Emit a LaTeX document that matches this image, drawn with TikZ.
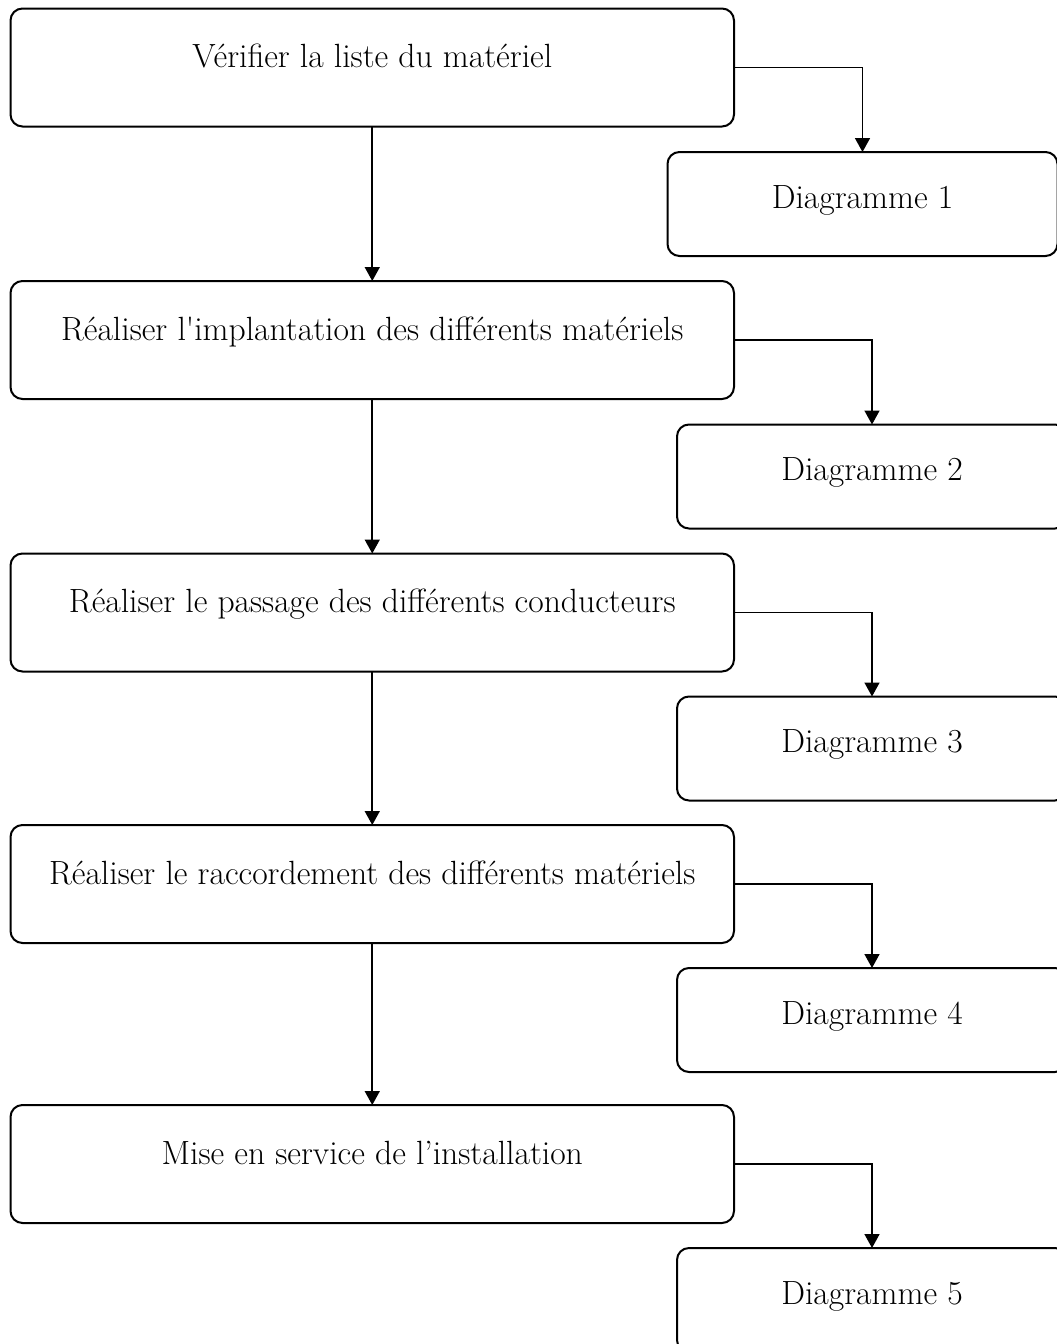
\documentclass[tikz,border=0pt]{standalone}
\usepackage{fontspec}
\usepackage{tikz}
\usetikzlibrary{arrows.meta}

\begin{document}
\begin{tikzpicture}[x=0.5pt,y=-0.5pt]
  \tikzset{StepStyle/.style = {
    shape          = rectangle,
    rounded corners = 6pt,
    draw           = black,
    fill           = white,
    line width     = 1pt,
    text           = black,
    inner sep      = 0pt,
    outer sep      = 0pt,
    minimum width  = 361.75pt,
    text height    = 29.5pt,
    text depth     = 29.5pt,
    font           = \fontsize{16.8}{20}\selectfont
    }
  }
  \tikzset{DiagStyle/.style = {
    StepStyle,
    minimum width  = 195pt,
    text height    = 28pt,
    text depth     = 24pt
    }
  }
  \tikzset{ArrowStyle/.style = {
    draw       = black,
    line width = 0.8pt,
    -{Triangle[width=7.5pt,length=7pt]}
    }
  }

  \useasboundingbox (0,0) rectangle (1056,1344);

	\node[StepStyle](S1) at (372.25, 67.5) {Vérifier la liste du matériel};
	\node[StepStyle](S2) at (372.25, 340) {Réaliser l\textquotesingle implantation des différents matériels};
	\node[StepStyle](S3) at (372.25, 612.5) {Réaliser le passage des différents conducteurs};
	\node[StepStyle](S4) at (372.25, 884) {Réaliser le raccordement des différents matériels};
	\node[StepStyle](S5) at (372.25, 1164) {Mise en service de l’installation};
	\node[DiagStyle](D1) at (862.5, 204) {Diagramme 1};
	\node[DiagStyle](D2) at (872, 476.5) {Diagramme 2};
	\node[DiagStyle](D3) at (872, 748.5) {Diagramme 3};
	\node[DiagStyle](D4) at (872, 1020) {Diagramme 4};
	\node[DiagStyle](D5) at (872, 1300) {Diagramme 5};
	\draw[ArrowStyle](S1) -- (S2);
	\draw[ArrowStyle](S2) -- (S3);
	\draw[ArrowStyle](S3) -- (S4);
	\draw[ArrowStyle](S4) -- (S5);
	\draw[ArrowStyle](S1.east) -| (D1.north);
	\draw[ArrowStyle](S2.east) -| (D2.north);
	\draw[ArrowStyle](S3.east) -| (D3.north);
	\draw[ArrowStyle](S4.east) -| (D4.north);
	\draw[ArrowStyle](S5.east) -| (D5.north);

\end{tikzpicture}
\end{document}
